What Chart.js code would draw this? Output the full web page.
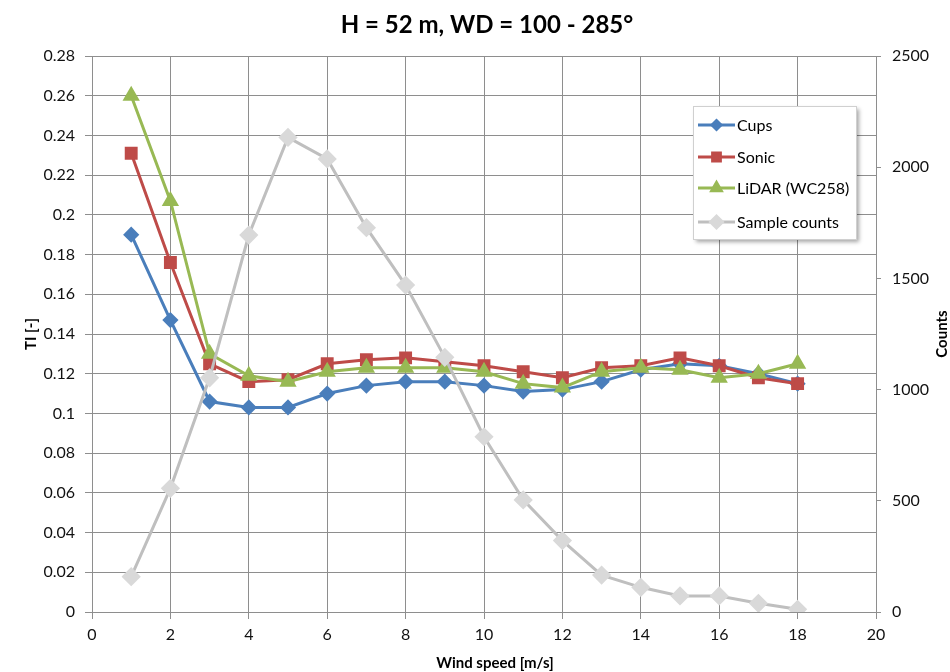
<!DOCTYPE html>
<html>
<head>
<meta charset="utf-8">
<script src="https://cdn.jsdelivr.net/npm/chart.js@4.4.1/dist/chart.umd.min.js"></script>
<style>
  html, body { margin: 0; padding: 0; background: #fff; }
  #wrap { width: 950px; height: 672px; position: relative; }
</style>
</head>
<body>
<div id="wrap"><canvas id="chartCanvas" width="950" height="672"></canvas></div>
<script>
// wind speed bins [m/s]
const windSpeed = [1, 2, 3, 4, 5, 6, 7, 8, 9, 10, 11, 12, 13, 14, 15, 16, 17, 18];

// turbulence intensity per instrument
const cupsTI  = [0.190, 0.147, 0.106, 0.103, 0.103, 0.110, 0.114, 0.116, 0.116, 0.114, 0.111, 0.112, 0.116, 0.122, 0.125, 0.124, 0.120, 0.115];
const sonicTI = [0.231, 0.176, 0.125, 0.116, 0.117, 0.125, 0.127, 0.128, 0.126, 0.124, 0.121, 0.118, 0.123, 0.124, 0.128, 0.124, 0.118, 0.115];
const lidarTI = [0.260, 0.207, 0.130, 0.119, 0.116, 0.121, 0.123, 0.123, 0.123, 0.121, 0.115, 0.113, 0.121, 0.123, 0.122, 0.118, 0.120, 0.125];

// number of samples per bin
const sampleCounts = [159, 556, 1053, 1695, 2134, 2037, 1728, 1470, 1145, 788, 504, 321, 166, 111, 72, 72, 39, 12];

const titleText = 'H = 52 m, WD = 100 - 285°';
const xTitle = 'Wind speed [m/s]';
const yTitle = 'TI [-]';
const y2Title = 'Counts';

const FONT = 'Lato, "Open Sans", sans-serif';
const GRID = '#8e8e8e';

Chart.defaults.font.family = FONT;
Chart.defaults.color = '#111';

function pts(values) {
    return windSpeed.map((x, i) => ({ x: x, y: values[i] }));
}

const datasets = [
    {
        label: 'Cups', data: pts(cupsTI), yAxisID: 'y', order: 3,
        borderColor: '#4a7ebb', backgroundColor: '#4a7ebb',
        pointStyle: 'rectRot', pointRadius: 6, borderWidth: 3
    },
    {
        label: 'Sonic', data: pts(sonicTI), yAxisID: 'y', order: 2,
        borderColor: '#be4b48', backgroundColor: '#be4b48',
        pointStyle: 'rect', pointRadius: 7, borderWidth: 3
    },
    {
        label: 'LiDAR (WC258)', data: pts(lidarTI), yAxisID: 'y', order: 1,
        borderColor: '#98b954', backgroundColor: '#98b954',
        pointStyle: 'triangle', pointRadius: 7, borderWidth: 3
    },
    {
        label: 'Sample counts', data: pts(sampleCounts), yAxisID: 'y1', order: 0,
        borderColor: '#bfbfbf', backgroundColor: '#d9d9d9', pointBorderColor: '#d9d9d9',
        pointStyle: 'rectRot', pointRadius: 7.5, borderWidth: 3
    }
];

// titles and the boxed legend inside the plot
const decorations = {
    id: 'decorations',
    afterDraw(chart) {
        const ctx = chart.ctx;
        const area = chart.chartArea;
        const midY = (area.top + area.bottom) / 2;
        ctx.save();
        ctx.fillStyle = '#000';
        ctx.textAlign = 'center';
        ctx.textBaseline = 'middle';

        ctx.font = 'bold 24px ' + FONT;
        ctx.fillText(titleText, 487, 25);

        ctx.font = 'bold 15px ' + FONT;
        ctx.fillText(xTitle, 495, 663);

        ctx.save();
        ctx.translate(31, midY);
        ctx.rotate(-Math.PI / 2);
        ctx.fillText(yTitle, 0, 0);
        ctx.restore();

        ctx.save();
        ctx.translate(942, midY);
        ctx.rotate(-Math.PI / 2);
        ctx.fillText(y2Title, 0, 0);
        ctx.restore();

        // legend box
        const bx = 693, by = 106, bw = 163, bh = 133;
        ctx.shadowColor = 'rgba(0,0,0,0.35)';
        ctx.shadowBlur = 4;
        ctx.shadowOffsetX = 3;
        ctx.shadowOffsetY = 3;
        ctx.fillStyle = '#fff';
        ctx.fillRect(bx, by, bw, bh);
        ctx.shadowColor = 'transparent';
        ctx.strokeStyle = '#d0d0d0';
        ctx.lineWidth = 1;
        ctx.strokeRect(bx + 0.5, by + 0.5, bw, bh);

        const rows = [125, 157, 188, 222];
        ctx.font = '16px ' + FONT;
        ctx.textAlign = 'left';
        chart.data.datasets.forEach((ds, k) => {
            const y = rows[k];
            ctx.strokeStyle = ds.borderColor;
            ctx.lineWidth = 3;
            ctx.beginPath();
            ctx.moveTo(698, y);
            ctx.lineTo(735, y);
            ctx.stroke();
            ctx.fillStyle = ds.backgroundColor;
            ctx.strokeStyle = ds.pointBorderColor || ds.borderColor;
            Chart.helpers.drawPoint(ctx, {
                pointStyle: ds.pointStyle, radius: ds.pointRadius - 1.5, rotation: 0, borderWidth: 1
            }, 716.5, y);
            ctx.fillStyle = '#000';
            ctx.fillText(ds.label, 737, y + 1);
        });
        ctx.restore();
    }
};

new Chart(document.getElementById('chartCanvas').getContext('2d'), {
    type: 'line',
    data: { datasets: datasets },
    options: {
        responsive: false,
        animation: false,
        devicePixelRatio: 1,
        layout: { padding: { top: 56, left: 0, right: 0, bottom: 0 } },
        plugins: {
            legend: { display: false },
            title: { display: false },
            tooltip: { enabled: false }
        },
        elements: { line: { tension: 0 } },
        scales: {
            x: {
                type: 'linear', min: 0, max: 20,
                ticks: { stepSize: 2, font: { size: 16 }, color: '#111', padding: 6 },
                grid: { color: GRID, tickLength: 7, tickColor: GRID },
                border: { color: GRID },
                afterFit(scale) { scale.height = 60; }
            },
            y: {
                position: 'left', min: 0, max: 0.28,
                ticks: {
                    stepSize: 0.02, font: { size: 16 }, color: '#111', padding: 10,
                    callback: v => String(+v.toFixed(2))
                },
                grid: { color: GRID, tickLength: 7, tickColor: GRID },
                border: { color: GRID },
                afterFit(scale) { scale.width = 92; }
            },
            y1: {
                position: 'right', min: 0, max: 2500,
                ticks: {
                    stepSize: 500, font: { size: 16 }, color: '#111', padding: 11,
                    callback: v => String(v)
                },
                grid: { drawOnChartArea: false, color: GRID, tickLength: 5, tickColor: GRID },
                border: { color: GRID },
                afterFit(scale) { scale.width = 74; }
            }
        }
    },
    plugins: [decorations]
});
</script>
</body>
</html>
